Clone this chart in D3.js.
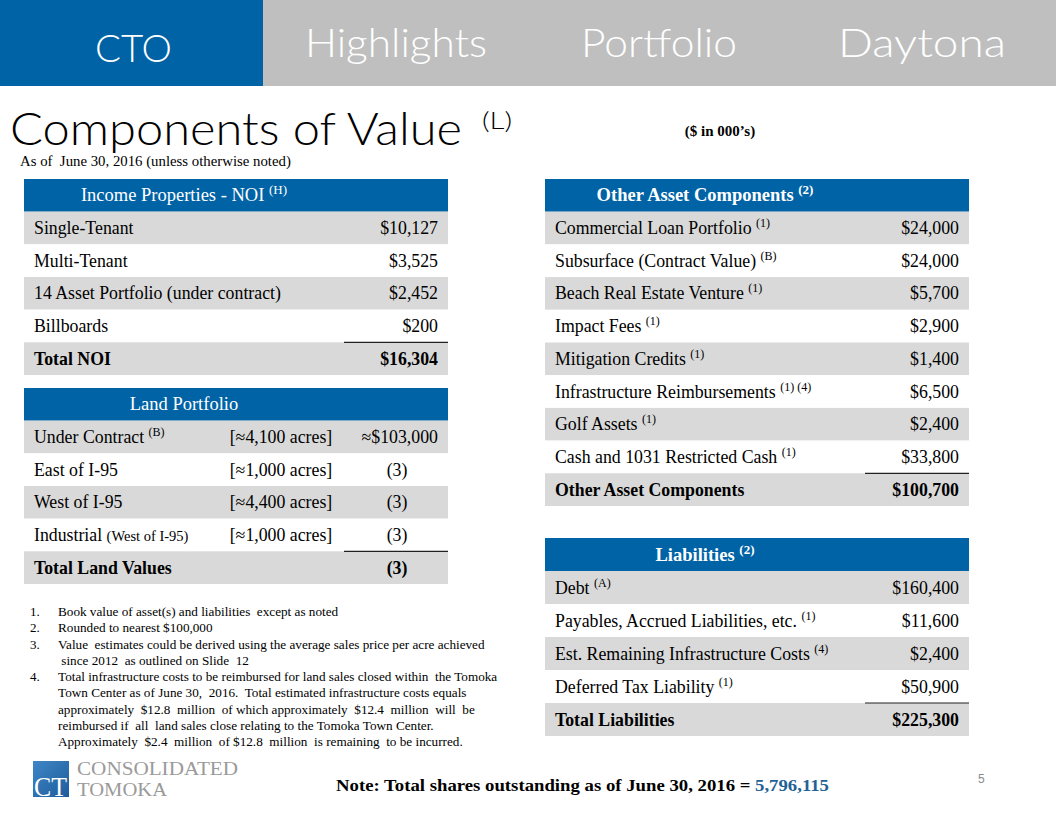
<!DOCTYPE html>
<html>
<head>
<meta charset="utf-8">
<script src="https://cdn.jsdelivr.net/npm/d3@7"></script>
<style>
  html, body { margin: 0; padding: 0; background: #ffffff; }
  svg { display: block; }
</style>
</head>
<body>
<div id="chart"></div>
<script>
// ---------------- DATA ----------------
const navTabs = ["CTO", "Highlights", "Portfolio", "Daytona"];
const titleText = "Components of Value";
const titleNote = "(L)";
const subtitleText = "As of  June 30, 2016 (unless otherwise noted)";
const unitsText = "($ in 000’s)";

const incomeHeader = "Income Properties - NOI";
const incomeHeaderNote = "(H)";
const incomeLabels = ["Single-Tenant", "Multi-Tenant", "14 Asset Portfolio (under contract)", "Billboards"];
const incomeValues = [10127, 3525, 2452, 200];
const incomeTotalLabel = "Total NOI";
const incomeTotal = 16304;

const landHeader = "Land Portfolio";
const landLabels = ["Under Contract ", "East of I-95", "West of I-95", "Industrial "];
const landLabelSmall = ["", "", "", "(West of  I-95)"];
const landNotes = ["(B)", "", "", ""];
const landAcres = ["[≈4,100 acres]", "[≈1,000 acres]", "[≈4,400 acres]", "[≈1,000 acres]"];
const landValues = ["≈$103,000", "(3)", "(3)", "(3)"];
const landTotalLabel = "Total Land Values";
const landTotal = "(3)";

const otherHeader = "Other Asset Components ";
const otherHeaderNote = "(2)";
const otherLabels = ["Commercial  Loan Portfolio ", "Subsurface (Contract Value)  ", "Beach Real Estate Venture  ",
  "Impact Fees ", "Mitigation  Credits ", "Infrastructure  Reimbursements  ", "Golf Assets ", "Cash and 1031  Restricted Cash "];
const otherNotes = ["(1)", "(B)", "(1)", "(1)", "(1)", "(1) (4)", "(1)", "(1)"];
const otherValues = [24000, 24000, 5700, 2900, 1400, 6500, 2400, 33800];
const otherTotalLabel = "Other Asset Components";
const otherTotal = 100700;

const liabHeader = "Liabilities ";
const liabHeaderNote = "(2)";
const liabLabels = ["Debt ", "Payables, Accrued Liabilities,  etc. ", "Est. Remaining  Infrastructure  Costs ", "Deferred  Tax Liability   "];
const liabNotes = ["(A)", "(1)", "(4)", "(1)"];
const liabValues = [160400, 11600, 2400, 50900];
const liabTotalLabel = "Total Liabilities";
const liabTotal = 225300;

const footnoteNums = ["1.", "2.", "3.", "", "4.", "", "", "", ""];
const footnoteLines = [
  "Book value of asset(s) and liabilities  except as noted",
  "Rounded to nearest $100,000",
  "Value  estimates could be derived using the average sales price per acre achieved",
  " since 2012  as outlined on Slide  12",
  "Total infrastructure costs to be reimbursed for land sales closed within  the Tomoka",
  "Town Center as of June 30,  2016.  Total estimated infrastructure costs equals",
  "approximately  $12.8  million  of which approximately  $12.4  million  will  be",
  "reimbursed if  all  land sales close relating to the Tomoka Town Center.",
  "Approximately  $2.4  million  of $12.8  million  is remaining  to be incurred."
];
const noteText = "Note: Total shares outstanding as of June 30, 2016 = ";
const sharesOutstanding = "5,796,115";
const pageNumber = "5";
const logoLines = ["CONSOLIDATED", "TOMOKA"];

// ---------------- STYLE ----------------
const W = 1056, H = 816;
const BLUE = "#0063a6";
const ROW_GRAY = "#d9d9d9";
const BAR_GRAY = "#bfbfbf";
const SERIF = "'Liberation Serif', 'Times New Roman', serif";
const GOTHIC = "Lato, 'Open Sans', 'DejaVu Sans', sans-serif";
const fmt = d3.format("$,");

const svg = d3.select("#chart").append("svg").attr("width", W).attr("height", H);

// ---------------- NAV BAR ----------------
const navX = d3.scaleOrdinal().domain(navTabs).range([[95, 172], [305, 487], [581, 737], [838, 1006]]);
svg.append("rect").attr("x", 0).attr("y", 0).attr("width", W).attr("height", 86).attr("fill", BAR_GRAY);
svg.append("rect").attr("x", 0).attr("y", 0).attr("width", 263).attr("height", 86).attr("fill", BLUE);
svg.selectAll("text.nav").data(navTabs).join("text")
  .attr("class", "nav")
  .attr("x", d => navX(d)[0])
  .attr("y", (d, i) => i === 0 ? 62 : 57)
  .attr("textLength", d => navX(d)[1] - navX(d)[0])
  .attr("lengthAdjust", "spacingAndGlyphs")
  .attr("font-family", GOTHIC).attr("font-weight", 300)
  .attr("font-size", (d, i) => i === 0 ? 38 : 40)
  .attr("fill", "#ffffff")
  .text(d => d);

// ---------------- TITLE ----------------
svg.append("text").attr("x", 10).attr("y", 145)
  .attr("textLength", 452).attr("lengthAdjust", "spacingAndGlyphs")
  .attr("font-family", GOTHIC).attr("font-weight", 300).attr("font-size", 46).attr("fill", "#000")
  .text(titleText);
svg.append("text").attr("x", 482).attr("y", 129)
  .attr("textLength", 30).attr("lengthAdjust", "spacingAndGlyphs")
  .attr("font-family", GOTHIC).attr("font-weight", 300).attr("font-size", 24).attr("fill", "#000")
  .text(titleNote);
svg.append("text").attr("x", 20).attr("y", 166)
  .attr("font-family", SERIF).attr("font-size", 14.8).attr("fill", "#000")
  .attr("xml:space", "preserve").style("white-space", "pre")
  .text(subtitleText);
svg.append("text").attr("x", 720).attr("y", 136).attr("text-anchor", "middle")
  .attr("font-family", SERIF).attr("font-size", 15).attr("font-weight", "bold").attr("fill", "#000")
  .text(unitsText);

// ---------------- TABLE HELPER ----------------
function drawTable(cfg) {
  const nRows = cfg.rows.length + 2; // header + rows + total
  const y = d3.scaleBand().domain(d3.range(nRows)).range([cfg.y0, cfg.y1]);
  const g = svg.append("g");
  const x0 = cfg.x0, x1 = cfg.x1;
  const labelX = x0 + 10, valueX = x1 - 10;
  const fs = 17.8;

  // header
  g.append("rect").attr("x", x0).attr("y", y(0)).attr("width", x1 - x0).attr("height", y.bandwidth()).attr("fill", BLUE);
  const ht = g.append("text")
    .attr("x", (x0 + cfg.splitX) / 2).attr("y", y(0) + y.bandwidth() / 2 + 6)
    .attr("text-anchor", "middle")
    .attr("font-family", SERIF).attr("font-size", 18.5)
    .attr("font-weight", cfg.headerBold ? "bold" : "normal")
    .attr("fill", "#ffffff")
    .attr("xml:space", "preserve").style("white-space", "pre");
  ht.append("tspan").text(cfg.header);
  if (cfg.headerNote) ht.append("tspan").attr("dy", -7).attr("font-size", 13).text(cfg.headerNote);

  // body rows
  const rows = cfg.rows.map((r, i) => ({ ...r, idx: i + 1 }));
  rows.push({ ...cfg.total, idx: nRows - 1, isTotal: true });

  g.selectAll("rect.row").data(rows).join("rect")
    .attr("class", "row")
    .attr("x", x0).attr("y", d => y(d.idx)).attr("width", x1 - x0).attr("height", y.bandwidth())
    .attr("fill", d => d.idx % 2 === 1 ? ROW_GRAY : "#ffffff");

  const lab = g.selectAll("text.lab").data(rows).join("text")
    .attr("class", "lab")
    .attr("x", labelX).attr("y", d => y(d.idx) + y.bandwidth() / 2 + 6)
    .attr("font-family", SERIF).attr("font-size", fs)
    .attr("font-weight", d => d.isTotal ? "bold" : "normal")
    .attr("fill", "#000");
  lab.append("tspan").text(d => d.label);
  lab.filter(d => d.small).append("tspan").attr("font-size", 14.5).text(d => d.small);
  lab.filter(d => d.note).append("tspan").attr("dy", -7).attr("font-size", 12).text(d => d.note);

  if (cfg.midX) {
    g.selectAll("text.mid").data(rows.filter(d => d.mid)).join("text")
      .attr("class", "mid")
      .attr("x", cfg.midX).attr("y", d => y(d.idx) + y.bandwidth() / 2 + 6)
      .attr("text-anchor", "middle")
      .attr("font-family", SERIF).attr("font-size", fs).attr("fill", "#000")
      .text(d => d.mid);
  }

  g.selectAll("text.val").data(rows).join("text")
    .attr("class", "val")
    .attr("x", d => d.center ? cfg.centerX : valueX)
    .attr("y", d => y(d.idx) + y.bandwidth() / 2 + 6)
    .attr("text-anchor", d => d.center ? "middle" : "end")
    .attr("font-family", SERIF).attr("font-size", fs)
    .attr("font-weight", d => d.isTotal ? "bold" : "normal")
    .attr("fill", "#000")
    .text(d => d.value);

  // total rule
  g.append("line")
    .attr("x1", cfg.splitX).attr("x2", x1)
    .attr("y1", y(nRows - 1)).attr("y2", y(nRows - 1))
    .attr("stroke", "#222").attr("stroke-width", 1.2);
}

// ---------------- TABLES ----------------
drawTable({
  x0: 24, x1: 448, y0: 179, y1: 375, splitX: 344,
  header: incomeHeader + " ", headerNote: incomeHeaderNote, headerBold: false,
  rows: incomeLabels.map((l, i) => ({ label: l, value: fmt(incomeValues[i]) })),
  total: { label: incomeTotalLabel, value: fmt(incomeTotal) }
});

drawTable({
  x0: 24, x1: 448, y0: 388, y1: 584, splitX: 344, midX: 281, centerX: 397,
  header: landHeader, headerBold: false,
  rows: landLabels.map((l, i) => ({
    label: l, small: landLabelSmall[i], note: landNotes[i], mid: landAcres[i],
    value: landValues[i], center: landValues[i] === "(3)"
  })),
  total: { label: landTotalLabel, value: landTotal, center: true }
});

drawTable({
  x0: 545, x1: 969, y0: 179, y1: 506, splitX: 865,
  header: otherHeader, headerNote: otherHeaderNote, headerBold: true,
  rows: otherLabels.map((l, i) => ({ label: l, note: otherNotes[i], value: fmt(otherValues[i]) })),
  total: { label: otherTotalLabel, value: fmt(otherTotal) }
});

drawTable({
  x0: 545, x1: 969, y0: 538, y1: 736, splitX: 865,
  header: liabHeader, headerNote: liabHeaderNote, headerBold: true,
  rows: liabLabels.map((l, i) => ({ label: l, note: liabNotes[i], value: fmt(liabValues[i]) })),
  total: { label: liabTotalLabel, value: fmt(liabTotal) }
});

// ---------------- FOOTNOTES ----------------
const fy = d3.scaleLinear().domain([0, footnoteLines.length - 1]).range([616, 746]);
svg.selectAll("text.fnum").data(footnoteNums).join("text")
  .attr("class", "fnum")
  .attr("x", 30).attr("y", (d, i) => fy(i))
  .attr("font-family", SERIF).attr("font-size", 13).attr("fill", "#000")
  .text(d => d);
svg.selectAll("text.fline").data(footnoteLines).join("text")
  .attr("class", "fline")
  .attr("x", 58).attr("y", (d, i) => fy(i))
  .attr("font-family", SERIF).attr("font-size", 13.2).attr("fill", "#000")
  .attr("xml:space", "preserve").style("white-space", "pre")
  .text(d => d);

// ---------------- LOGO ----------------
const logo = svg.append("g");
const grad = svg.append("defs").append("linearGradient").attr("id", "lg").attr("x1", 0).attr("y1", 0).attr("x2", 1).attr("y2", 1);
grad.append("stop").attr("offset", "0%").attr("stop-color", "#3f86c6");
grad.append("stop").attr("offset", "100%").attr("stop-color", "#1d5c9c");
logo.append("rect").attr("x", 33).attr("y", 761).attr("width", 36).attr("height", 36).attr("fill", "url(#lg)");
logo.append("text").attr("x", 34).attr("y", 796)
  .attr("font-family", SERIF).attr("font-size", 27).attr("fill", "#ffffff")
  .attr("textLength", 33).attr("lengthAdjust", "spacingAndGlyphs")
  .text("CT");
logo.selectAll("text.lt").data(logoLines).join("text")
  .attr("class", "lt")
  .attr("x", 77).attr("y", (d, i) => i === 0 ? 775 : 796)
  .attr("textLength", (d, i) => i === 0 ? 161 : 90).attr("lengthAdjust", "spacingAndGlyphs")
  .attr("font-family", SERIF).attr("font-size", 18).attr("fill", "#9a9a9a")
  .text(d => d);

// ---------------- NOTE ----------------
const note = svg.append("text").attr("x", 336).attr("y", 791)
  .attr("font-family", SERIF).attr("font-size", 16).attr("font-weight", "bold").attr("fill", "#000")
  .attr("textLength", 493).attr("lengthAdjust", "spacingAndGlyphs")
  .attr("xml:space", "preserve").style("white-space", "pre");
note.append("tspan").text(noteText);
note.append("tspan").attr("fill", "#1f6394").text(sharesOutstanding);

svg.append("text").attr("x", 978).attr("y", 783)
  .attr("font-family", "'Liberation Sans', Arial, sans-serif").attr("font-size", 12).attr("fill", "#8a8a8a")
  .text(pageNumber);
</script>
</body>
</html>
